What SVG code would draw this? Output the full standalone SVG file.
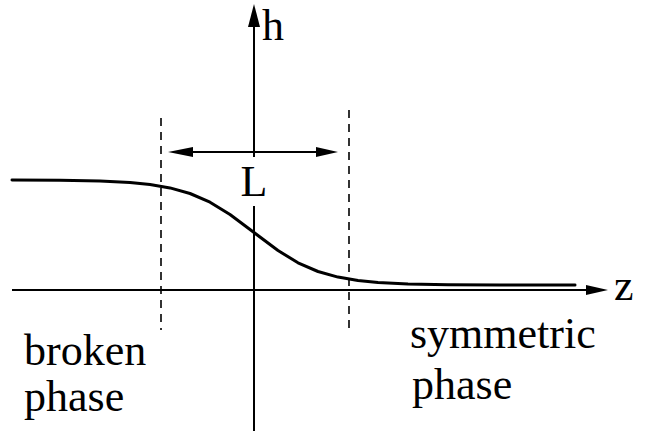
<svg xmlns="http://www.w3.org/2000/svg" width="645" height="434" viewBox="0 0 645 434">
<style>
.ax{stroke:#000;stroke-width:2;fill:none}
.dash{stroke:#000;stroke-width:1.6;stroke-dasharray:8,6;fill:none}
.curve{stroke:#000;stroke-width:3;fill:none;stroke-linejoin:round;stroke-linecap:round}
.head{fill:#000}
</style>
<rect width="645" height="434" fill="#fff"/>
<g id="axes">
<line class="ax" x1="254" y1="20" x2="254" y2="431"/>
<polygon class="head" points="254,4 248,27 260,27"/>
<line class="ax" x1="12" y1="290" x2="592" y2="290"/>
<polygon class="head" points="608,290 586,285 586,295"/>
</g>
<g id="dashes">
<line class="dash" x1="161" y1="118" x2="161" y2="330"/>
<line class="dash" x1="349" y1="110" x2="349" y2="330"/>
</g>
<g id="width-arrow">
<line class="ax" x1="185" y1="152" x2="322" y2="152"/>
<polygon class="head" points="168,152 193,147 193,157"/>
<polygon class="head" points="338,152 316,147 316,157"/>
</g>
<path id="profile" class="curve" d="M12,180.1 L60,180.3 L100,181 L130,182.5 L150,184.5 L170,187.9 L190,193.5 L210,202.2 L230,214.5 L254,232.5 L278,250.5 L298,262.8 L318,271.5 L338,277.1 L358,280.5 L378,282.5 L408,284 L448,284.7 L500,284.9 L575,285"/>
<g id="labels" font-family="Liberation Serif, Times New Roman, Times, serif" font-size="44" fill="#000">
<rect x="240" y="157" width="28" height="49" fill="#fff"/>
<text x="254" y="196" text-anchor="middle">L</text>
<text x="262" y="40">h</text>
<text x="614" y="300">z</text>
<text x="24" y="365">broken</text>
<text x="24" y="411">phase</text>
<text x="410" y="348">symmetric</text>
<text x="412" y="399">phase</text>
</g>
</svg>
